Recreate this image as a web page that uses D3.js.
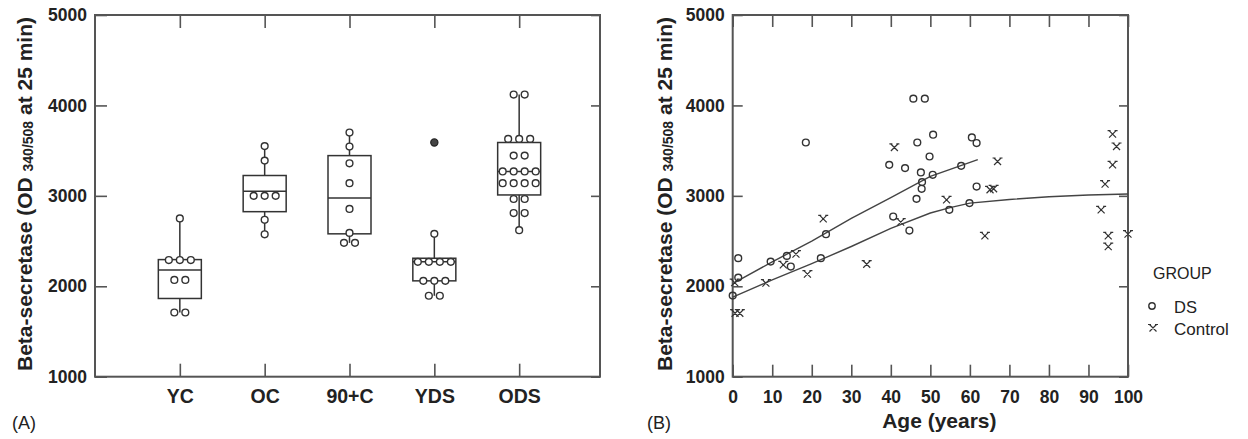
<!DOCTYPE html>
<html>
<head>
<meta charset="utf-8">
<script src="https://cdn.jsdelivr.net/npm/d3@7"></script>
<style>
  body { margin: 0; background: #fff; }
  svg text { font-family: "Liberation Sans", Arial, Helvetica, sans-serif; fill: #222; }
</style>
</head>
<body>
<svg id="chart" width="1248" height="439"></svg>
<script>
// ---- panel A : box plots by group ----
var groups = ['YC', 'OC', '90+C', 'YDS', 'ODS'];
// [lower whisker, q1, median, q3, upper whisker]
var boxStats = [
   [1710, 1865, 2180, 2295, 2750],
   [2575, 2825, 3050, 3225, 3550],
   [2480, 2580, 2975, 3445, 3700],
   [1895, 2060, 2270, 2310, 2580],
   [2620, 3010, 3270, 3590, 4120]
];
var groupPoints = [
   [2750, 2290, 2290, 2290, 2070, 2070, 1710, 1710],
   [3550, 3390, 3000, 3000, 3000, 2735, 2575],
   [3700, 3545, 3360, 3140, 2855, 2590, 2480, 2480],
   [2580, 2270, 2270, 2270, 2270, 2060, 2060, 2060, 1895, 1895],
   [4120, 4120, 3630, 3630, 3630, 3445, 3445, 3270, 3270, 3270, 3270,
    3140, 3140, 3140, 3140, 2965, 2965, 2810, 2810, 2620]
];
var outliers = [[3, 3590]]; // YDS outlier

// ---- panel B : scatter by age ----
var dsPoints = [
   [0, 1897], [1.4, 2096], [1.4, 2311], [9.6, 2273], [13.7, 2336], [14.7, 2218],
   [18.5, 3590], [22.3, 2311], [23.6, 2576], [39.6, 3343], [40.6, 2771], [43.6, 3307],
   [44.7, 2616], [45.7, 4075], [46.5, 2967], [46.7, 3590], [47.6, 3259], [47.8, 3078],
   [47.9, 3152], [48.6, 4075], [49.8, 3435], [50.6, 3233], [50.7, 3676], [54.8, 2845],
   [57.8, 3332], [59.9, 2920], [60.5, 3646], [61.7, 3584], [61.7, 3103]
];
var controlPoints = [
   [0.5, 2040], [0.6, 1702], [1.8, 1702], [8.4, 2034], [12.8, 2237], [16, 2355],
   [18.9, 2134], [22.9, 2746], [33.9, 2244], [40.9, 3535], [42.5, 2709], [54.1, 2956],
   [63.8, 2557], [65.1, 3067], [66, 3078], [67, 3380], [93.2, 2845], [94.2, 3130],
   [95, 2557], [95, 2439], [96.1, 3683], [96.1, 3343], [97.1, 3546], [100, 2576]
];
var dsTrend = [[0, 2030], [10, 2270], [20, 2500], [30, 2750], [40, 2980], [50, 3215], [62, 3400]];
var controlTrend = [[0, 1880], [10, 2070], [20, 2250], [30, 2440], [40, 2640], [50, 2810],
   [55, 2870], [60, 2920], [70, 2960], [80, 2990], [90, 3010], [100, 3020]];

var yTicks = [1000, 2000, 3000, 4000, 5000];
var ageTicks = [0, 10, 20, 30, 40, 50, 60, 70, 80, 90, 100];

const svg = d3.select('#chart');
const ink = '#333';
const frameColor = '#555';

const y = d3.scaleLinear().domain([1000, 5000]).range([376.7, 15]);

function yLabel(g, xPos) {
   var t = g.append('text')
      .attr('transform', 'translate(' + xPos + ',194) rotate(-90)')
      .attr('text-anchor', 'middle')
      .style('font-size', '21px')
      .style('font-weight', 'bold');
   t.append('tspan').text('Beta-secretase (OD ');
   t.append('tspan').style('font-size', '14px').attr('dy', 1).text('340/508');
   t.append('tspan').attr('dy', -1).text(' at 25 min)');
}

function styleAxis(g, size) {
   g.select('.domain').remove();
   g.selectAll('.tick line').attr('stroke', frameColor).attr('stroke-width', 1.6);
   g.selectAll('.tick text')
      .style('font-size', size + 'px')
      .style('font-weight', 'bold')
      .attr('fill', '#222');
}

// ================= panel A =================
var aLeft = 95, aRight = 600;
const xA = d3.scalePoint().domain(groups).range([aLeft, 604]).padding(1);
const gA = svg.append('g');

gA.append('g').attr('transform', 'translate(' + aLeft + ',0)')
   .call(d3.axisLeft(y).tickValues(yTicks).tickSize(-12).tickPadding(8).tickFormat(d3.format('d')))
   .call(g => styleAxis(g, 17.5));
gA.append('g').attr('transform', 'translate(' + aRight + ',0)')
   .call(d3.axisRight(y).tickValues(yTicks).tickSize(-9).tickFormat(''))
   .call(g => styleAxis(g, 10));
gA.append('g').attr('transform', 'translate(0,' + y(1000) + ')')
   .call(d3.axisBottom(xA).tickSize(-13).tickPadding(12.5))
   .call(g => styleAxis(g, 19.5));
gA.append('g').attr('transform', 'translate(0,' + y(5000) + ')')
   .call(d3.axisTop(xA).tickSize(-13).tickFormat(''))
   .call(g => styleAxis(g, 10));

gA.append('rect')
   .attr('x', aLeft).attr('y', y(5000))
   .attr('width', aRight - aLeft).attr('height', y(1000) - y(5000))
   .attr('fill', 'none').attr('stroke', frameColor).attr('stroke-width', 2);

var boxW = 43;
var boxes = gA.selectAll('.box').data(boxStats).join('g').attr('class', 'box')
   .attr('transform', (d, i) => 'translate(' + xA(groups[i]) + ',0)');
boxes.append('line')
   .attr('y1', d => y(d[0])).attr('y2', d => y(d[4]))
   .attr('stroke', ink).attr('stroke-width', 1.5);
boxes.append('rect')
   .attr('x', -boxW / 2).attr('width', boxW)
   .attr('y', d => y(d[3])).attr('height', d => y(d[1]) - y(d[3]))
   .attr('fill', '#fff').attr('stroke', ink).attr('stroke-width', 1.5);
boxes.append('line')
   .attr('x1', -boxW / 2).attr('x2', boxW / 2)
   .attr('y1', d => y(d[2])).attr('y2', d => y(d[2]))
   .attr('stroke', ink).attr('stroke-width', 1.5);

// dot plot: equal values side by side
var dotStep = 11;
groupPoints.forEach(function (vals, i) {
   var counts = d3.rollup(vals, v => v.length, v => v);
   var seen = new Map();
   var dots = vals.map(function (v) {
      var k = seen.get(v) || 0;
      seen.set(v, k + 1);
      var n = counts.get(v);
      return { v: v, dx: (k - (n - 1) / 2) * dotStep };
   });
   gA.selectAll('.dot' + i).data(dots).join('circle')
      .attr('cx', d => xA(groups[i]) + d.dx)
      .attr('cy', d => y(d.v))
      .attr('r', 3.4)
      .attr('fill', '#fff').attr('stroke', ink).attr('stroke-width', 1.4);
});
gA.selectAll('.outlier').data(outliers).join('circle')
   .attr('cx', d => xA(groups[d[0]])).attr('cy', d => y(d[1]))
   .attr('r', 3.6).attr('fill', '#444').attr('stroke', '#222').attr('stroke-width', 1.2);

yLabel(gA, 32);
gA.append('text').attr('x', 12).attr('y', 429).style('font-size', '18px').text('(A)');

// ================= panel B =================
var bLeft = 732.7, bRight = 1128;
const xB = d3.scaleLinear().domain([0, 100]).range([bLeft, bRight]);
const gB = svg.append('g');

gB.append('g').attr('transform', 'translate(' + bLeft + ',0)')
   .call(d3.axisLeft(y).tickValues(yTicks).tickSize(-10).tickPadding(8).tickFormat(d3.format('d')))
   .call(g => styleAxis(g, 17.5));
gB.append('g').attr('transform', 'translate(' + bRight + ',0)')
   .call(d3.axisRight(y).tickValues(yTicks).tickSize(-9).tickFormat(''))
   .call(g => styleAxis(g, 10));
gB.append('g').attr('transform', 'translate(0,' + y(1000) + ')')
   .call(d3.axisBottom(xB).tickValues(ageTicks).tickSize(-12).tickPadding(14))
   .call(g => styleAxis(g, 17.5));
gB.append('g').attr('transform', 'translate(0,' + y(5000) + ')')
   .call(d3.axisTop(xB).tickValues(ageTicks).tickSize(-12).tickFormat(''))
   .call(g => styleAxis(g, 10));

gB.append('rect')
   .attr('x', bLeft).attr('y', y(5000))
   .attr('width', bRight - bLeft).attr('height', y(1000) - y(5000))
   .attr('fill', 'none').attr('stroke', frameColor).attr('stroke-width', 2);

const trendLine = d3.line().x(d => xB(d[0])).y(d => y(d[1]));
gB.selectAll('.trend').data([dsTrend, controlTrend]).join('path')
   .attr('d', trendLine)
   .attr('fill', 'none').attr('stroke', '#444').attr('stroke-width', 1.4);

var crossPath = 'M-3.5,-3.5L3.5,3.5M-3.5,3.5L3.5,-3.5M-5,-3.5H-2M2,-3.5H5';
gB.selectAll('.ctrl').data(controlPoints).join('path')
   .attr('transform', d => 'translate(' + xB(d[0]) + ',' + y(d[1]) + ')')
   .attr('d', crossPath)
   .attr('fill', 'none').attr('stroke', ink).attr('stroke-width', 1.2);
gB.selectAll('.ds').data(dsPoints).join('circle')
   .attr('cx', d => xB(d[0])).attr('cy', d => y(d[1]))
   .attr('r', 3.4)
   .attr('fill', 'none').attr('stroke', ink).attr('stroke-width', 1.4);

yLabel(gB, 672);
gB.append('text').attr('x', 647).attr('y', 429).style('font-size', '18px').text('(B)');
gB.append('text').attr('x', (bLeft + bRight) / 2 + 9).attr('y', 428)
   .attr('text-anchor', 'middle')
   .style('font-size', '21px').style('font-weight', 'bold')
   .text('Age (years)');

// legend
var legend = svg.append('g');
legend.append('text').attr('x', 1153).attr('y', 279).style('font-size', '16px').text('GROUP');
legend.append('circle').attr('cx', 1152).attr('cy', 306).attr('r', 3.2)
   .attr('fill', 'none').attr('stroke', ink).attr('stroke-width', 1.4);
legend.append('text').attr('x', 1174).attr('y', 313).style('font-size', '16.5px').text('DS');
legend.append('path').attr('transform', 'translate(1153,328)').attr('d', crossPath)
   .attr('fill', 'none').attr('stroke', ink).attr('stroke-width', 1.2);
legend.append('text').attr('x', 1174).attr('y', 335).style('font-size', '17px').text('Control');
</script>
</body>
</html>
